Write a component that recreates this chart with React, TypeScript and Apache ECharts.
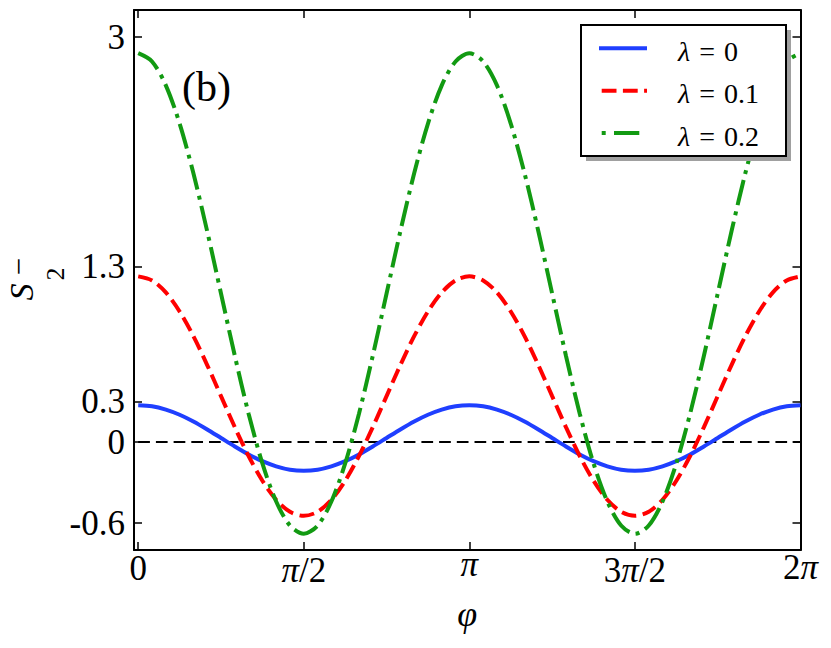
import React, { useEffect, useRef } from 'react';
import * as echarts from 'echarts';

// sample positions of phi (0 .. 2π in steps of π/24)
const PHI = Array.from({ length: 49 }, (_, i) => (i * Math.PI) / 24);

// S2^-
const S_LAMBDA_0 = [
  0.273, 0.265, 0.24, 0.202, 0.152, 0.093, 0.03, -0.033, -0.092, -0.142, -0.18, -0.205, -0.213,
  -0.205, -0.18, -0.142, -0.092, -0.033, 0.03, 0.093, 0.152, 0.202, 0.24, 0.265, 0.273,
  0.265, 0.24, 0.202, 0.152, 0.093, 0.03, -0.033, -0.092, -0.142, -0.18, -0.205, -0.213,
  -0.205, -0.18, -0.142, -0.092, -0.033, 0.03, 0.093, 0.152, 0.202, 0.24, 0.265, 0.273,
];
const S_LAMBDA_01 = [
  1.227, 1.197, 1.108, 0.967, 0.784, 0.57, 0.34, 0.11, -0.104, -0.287, -0.428, -0.517, -0.547,
  -0.517, -0.428, -0.287, -0.104, 0.11, 0.34, 0.57, 0.784, 0.967, 1.108, 1.197, 1.227,
  1.197, 1.108, 0.967, 0.784, 0.57, 0.34, 0.11, -0.104, -0.287, -0.428, -0.517, -0.547,
  -0.517, -0.428, -0.287, -0.104, 0.11, 0.34, 0.57, 0.784, 0.967, 1.108, 1.197, 1.227,
];
const S_LAMBDA_02 = [
  2.88, 2.819, 2.642, 2.359, 1.99, 1.561, 1.1, 0.639, 0.21, -0.159, -0.441, -0.619, -0.68,
  -0.619, -0.441, -0.159, 0.21, 0.639, 1.1, 1.561, 1.99, 2.359, 2.642, 2.819, 2.88,
  2.819, 2.642, 2.359, 1.99, 1.561, 1.1, 0.639, 0.21, -0.159, -0.441, -0.619, -0.68,
  -0.619, -0.441, -0.159, 0.21, 0.639, 1.1, 1.561, 1.99, 2.359, 2.642, 2.819, 2.88,
];
const ZERO_LINE_X = [0, 2 * Math.PI];
const ZERO_LINE_Y = [0, 0];

const SERIES_NAMES = ['λ = 0', 'λ = 0.1', 'λ = 0.2'];
const LEGEND_VALUES = ['0', '0.1', '0.2'];
const PANEL_LABEL = '(b)';
// y-axis title S_2^- split into its parts: symbol, subscript, superscript
const Y_TITLE_PARTS = ['S', '2', '−'];

const X_TICKS = [0, Math.PI / 2, Math.PI, (3 * Math.PI) / 2, 2 * Math.PI];
const X_TICK_LABELS = ['0', 'π/2', 'π', '3π/2', '2π'];
const Y_TICKS = [-0.6, 0, 0.3, 1.3, 3];
const Y_TICK_LABELS = ['-0.6', '0', '0.3', '1.3', '3'];
const X_RANGE = [-0.04, 2 * Math.PI];
const Y_RANGE = [-0.8, 3.2];

// styling (not data)
const FAMILY = "'Liberation Serif', 'DejaVu Serif', serif";
const COLORS = ['#1f3fff', '#ff0000', '#129a12'];
const DASHES: any[] = ['solid', [14.8, 6.4], [25.6, 6.4, 4, 6.4]];
const X_LABEL_PAD = [8, 13, 0, 12, 7];
// layout of the three y-title parts: [fontSize, italic, nameGap, padding]
const Y_TITLE_LAYOUT: any[] = [
  [34, true, 96, [0, 24, 0, 0]],
  [26, false, 66, [0, 0, 0, 12]],
  [31, false, 100, [0, 0, 0, 27]],
];

function nearestIndex(arr: number[], v: number) {
  let best = 0;
  for (let i = 1; i < arr.length; i++) if (Math.abs(arr[i] - v) < Math.abs(arr[best] - v)) best = i;
  return best;
}

const ts = (size: number, italic = false, extra: any = {}) => {
  const o: any = { fontFamily: FAMILY, fontSize: size, fontWeight: 'normal', color: '#000', lineHeight: size, ...extra };
  if (italic) o.fontStyle = 'italic';
  return o;
};

export default function App() {
  const ref = useRef<HTMLDivElement>(null);
  useEffect(() => {
    if (!ref.current) return;
    const chart = echarts.init(ref.current, undefined, { renderer: 'svg' });

    const xRich: any = {};
    X_LABEL_PAD.forEach((p, k) => {
      const base = { fontFamily: FAMILY, fontSize: 35, color: '#000', lineHeight: 24, padding: [p, 0, 0, 0] };
      xRich['n' + k] = { ...base };
      xRich['i' + k] = { ...base, fontStyle: 'italic' };
    });

    const tickStyle = { show: true, inside: true, length: 8, lineStyle: { color: '#000', width: 1.5 } };
    const axisLine = { show: true, onZero: false, lineStyle: { color: '#000', width: 2 } };

    const curves = [S_LAMBDA_0, S_LAMBDA_01, S_LAMBDA_02].map((ys, s) => ({
      type: 'line',
      name: SERIES_NAMES[s],
      data: PHI.map((x, i) => [x, ys[i]]),
      showSymbol: false,
      symbol: 'none',
      smooth: 0.3,
      lineStyle: { color: COLORS[s], width: 4, type: DASHES[s], cap: 'butt' },
      itemStyle: { color: COLORS[s] },
      z: 3 + s,
    }));

    const legendRows = [48.3, 90.7, 133];
    const legendGraphics: any[] = [
      { type: 'rect', z: 100, shape: { x: 586, y: 30, width: 205, height: 131 }, style: { fill: '#a0a0a0' } },
      { type: 'rect', z: 101, shape: { x: 581, y: 25, width: 205, height: 131 }, style: { fill: '#fff', stroke: '#000', lineWidth: 2 } },
    ];
    const legendTitles: any[] = [];
    legendRows.forEach((ly, s) => {
      const x1 = s === 0 ? 599 : 601.7;
      const dash = s === 0 ? null : s === 1 ? [14.8, 6.4] : [4, 8.3, 25.3, 20];
      legendGraphics.push({
        type: 'line', z: 102,
        shape: { x1, y1: ly, x2: 647, y2: ly },
        style: { stroke: COLORS[s], lineWidth: 4, lineDash: dash, lineCap: 'butt' },
      });
      legendTitles.push({
        text: `{l|λ}{e|=}{n|${LEGEND_VALUES[s]}}`,
        left: 678, top: ly + 3 - 14, padding: 0, z: 110,
        textStyle: {
          ...ts(28),
          rich: { l: ts(28, true), e: ts(28, false, { padding: [0, 9, 0, 9] }), n: ts(28) },
        },
      });
    });

    // invisible left axes that only carry the parts of the y title
    const yTitleAxes = Y_TITLE_PARTS.map((part, k) => {
      const [size, italic, gap, pad] = Y_TITLE_LAYOUT[k];
      return {
        type: 'value', position: 'left', min: Y_RANGE[0], max: Y_RANGE[1],
        axisLine: { show: false }, axisTick: { show: false }, axisLabel: { show: false },
        splitLine: { show: false },
        name: part, nameLocation: 'middle', nameRotate: 90, nameGap: gap,
        nameTextStyle: { ...ts(size, italic), padding: pad },
      };
    });

    const option: any = {
      animation: false,
      backgroundColor: '#fff',
      textStyle: { fontFamily: FAMILY },
      title: [
        { text: PANEL_LABEL, left: 182, top: 66, padding: 0, z: 110, textStyle: ts(42) },
        ...legendTitles,
      ],
      grid: { left: 134, right: 30.5, top: 10, bottom: 98, containLabel: false, outerBoundsMode: 'none' },
      xAxis: [
        {
          type: 'value', position: 'bottom', min: X_RANGE[0], max: X_RANGE[1],
          axisLine, splitLine: { show: false },
          axisTick: { ...tickStyle, customValues: X_TICKS },
          axisLabel: {
            customValues: X_TICKS, margin: 2, color: '#000', fontFamily: FAMILY, fontSize: 35,
            formatter: (v: number) => {
              const k = nearestIndex(X_TICKS, v);
              const parts = X_TICK_LABELS[k].split('π');
              let out = '';
              parts.forEach((p, j) => {
                if (p) out += `{n${k}|${p}}`;
                if (j < parts.length - 1) out += `{i${k}|π}`;
              });
              return out;
            },
            rich: xRich,
          },
          name: 'φ', nameLocation: 'middle', nameGap: 46,
          nameTextStyle: { fontFamily: FAMILY, fontSize: 36, fontStyle: 'italic', color: '#000' },
        },
        {
          type: 'value', position: 'top', min: X_RANGE[0], max: X_RANGE[1],
          axisLine, splitLine: { show: false },
          axisTick: { ...tickStyle, customValues: X_TICKS },
          axisLabel: { show: false },
        },
      ],
      yAxis: [
        {
          type: 'value', position: 'left', min: Y_RANGE[0], max: Y_RANGE[1],
          axisLine, splitLine: { show: false },
          axisTick: { ...tickStyle, customValues: Y_TICKS },
          axisLabel: {
            customValues: Y_TICKS, margin: 9, color: '#000', fontFamily: FAMILY, fontSize: 35,
            formatter: (v: number) => Y_TICK_LABELS[nearestIndex(Y_TICKS, v)],
          },
        },
        {
          type: 'value', position: 'right', min: Y_RANGE[0], max: Y_RANGE[1],
          axisLine, splitLine: { show: false },
          axisTick: { ...tickStyle, customValues: Y_TICKS },
          axisLabel: { show: false },
        },
        ...yTitleAxes,
      ],
      series: [
        {
          type: 'line',
          name: 'zero',
          data: ZERO_LINE_X.map((x, i) => [x, ZERO_LINE_Y[i]]),
          showSymbol: false,
          symbol: 'none',
          lineStyle: { color: '#000', width: 2, type: [11.7, 6], cap: 'butt' },
          z: 2,
        },
        ...curves,
      ],
      graphic: legendGraphics,
    };
    chart.setOption(option);
    return () => chart.dispose();
  }, []);
  return (
    <div
      ref={ref}
      style={{ position: 'fixed', left: 0, top: 0, width: 831, height: 648, background: '#fff' }}
    />
  );
}
